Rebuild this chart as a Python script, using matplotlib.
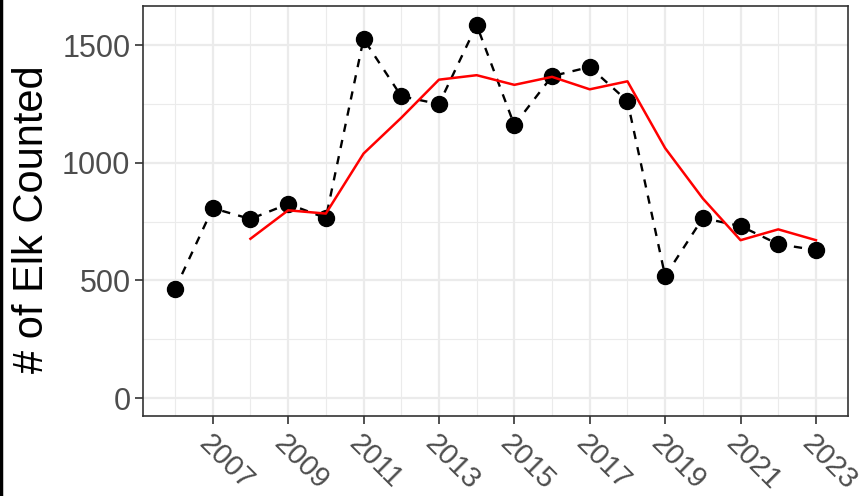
import matplotlib
matplotlib.use("Agg")
import matplotlib.pyplot as plt
from matplotlib.lines import Line2D

# elk counts
years = [2006, 2007, 2008, 2009, 2010, 2011, 2012, 2013, 2014,
         2015, 2016, 2017, 2018, 2019, 2020, 2021, 2022, 2023]
counts = [463, 807, 761, 825, 765, 1526, 1283, 1249, 1585,
          1160, 1368, 1407, 1262, 518, 765, 731, 654, 629]

# red running-average line (starts in 2008)
avg_years = years[2:]
avg_counts = [677, 798, 784, 1039, 1191, 1353, 1372, 1331,
              1365, 1312, 1346, 1062, 848, 671, 717, 671]

x_ticks = [2007, 2009, 2011, 2013, 2015, 2017, 2019, 2021, 2023]
x_minor = [2006, 2008, 2010, 2012, 2014, 2016, 2018, 2020, 2022]
y_ticks = [0, 500, 1000, 1500]
y_minor = [250, 750, 1250]

plt.rcParams['font.family'] = ['Liberation Sans', 'DejaVu Sans']

fig = plt.figure(figsize=(8.61, 4.96), dpi=100)
ax = fig.add_axes([143 / 861, 1 - 416 / 496, 705 / 861, 410 / 496])

ax.plot(years, counts, color='black', lw=1.7, ls=(0, (3.5, 3.5)), zorder=3)
ax.plot(years, counts, 'o', color='black', ms=11.5, zorder=4)
ax.plot(avg_years, avg_counts, color='red', lw=1.8, zorder=5)

ax.set_xlim(2005.15, 2023.85)
ax.set_ylim(-76, 1666)

ax.set_xticks(x_ticks)
ax.set_xticks(x_minor, minor=True)
ax.set_yticks(y_ticks)
ax.set_yticks(y_minor, minor=True)
ax.set_xticklabels([str(y) for y in x_ticks], rotation=-45, ha='left', va='top',
                   rotation_mode='anchor')

ax.grid(which='major', color='#EBEBEB', lw=1.6, zorder=0)
ax.grid(which='minor', color='#EBEBEB', lw=0.8, zorder=0)
ax.set_axisbelow(True)

ax.tick_params(which='major', length=6, width=1.2, color='#333333',
               labelsize=22, labelcolor='#4D4D4D', pad=3)
ax.tick_params(axis='x', labelsize=21, pad=4)
ax.tick_params(which='minor', length=0)

for s in ax.spines.values():
    s.set_color('#333333')
    s.set_linewidth(1.2)

ax.set_ylabel('# of Elk Counted', fontsize=30, color='black')
ax.yaxis.set_label_coords(-0.129, 0.48)

fig.add_artist(Line2D([0.0015, 0.0015], [0, 1], color='black', lw=2.5,
                      transform=fig.transFigure))

fig.savefig('out.png', dpi=100)
